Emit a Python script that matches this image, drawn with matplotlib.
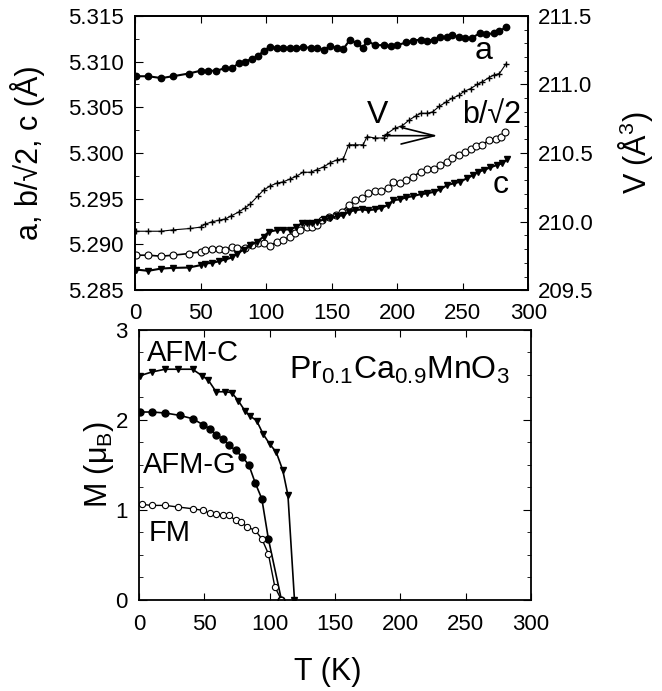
import matplotlib
matplotlib.use('Agg')
import matplotlib.pyplot as plt
from matplotlib.ticker import MultipleLocator

plt.rcParams['font.family'] = ['Liberation Sans', 'DejaVu Sans']
plt.rcParams['mathtext.fontset'] = 'custom'
plt.rcParams['mathtext.rm'] = 'Liberation Sans'
plt.rcParams['mathtext.it'] = 'Liberation Sans:italic'

# lattice parameter a (filled circles)
T_a = [1, 10, 20, 29, 41, 50, 56, 62, 69, 74, 79, 84, 89, 94, 98, 103, 108, 113, 118, 123,
       128, 134, 139, 144, 149, 154, 159, 164, 169, 174, 177, 183, 190, 195, 200, 207, 212,
       218, 223, 228, 233, 238, 242, 247, 252, 257, 263, 268, 274, 278, 283]
a_vals = [5.3084, 5.3084, 5.3082, 5.3084, 5.3087, 5.3090, 5.3090, 5.3090, 5.3093, 5.3093,
          5.3098, 5.3100, 5.3103, 5.3106, 5.3112, 5.3116, 5.3115, 5.3115, 5.3115, 5.3115,
          5.3116, 5.3115, 5.3115, 5.3113, 5.3117, 5.3115, 5.3114, 5.3124, 5.3120, 5.3115,
          5.3123, 5.3118, 5.3118, 5.3117, 5.3118, 5.3121, 5.3123, 5.3124, 5.3123, 5.3124,
          5.3127, 5.3127, 5.3129, 5.3127, 5.3126, 5.3126, 5.3131, 5.3130, 5.3131, 5.3133,
          5.3138]

# b/sqrt(2) (open circles)
T_b = [1, 10, 20, 29, 41, 50, 53, 59, 64, 69, 74, 78, 84, 89, 94, 98, 103, 108, 113, 118,
       122, 126, 131, 135, 139, 143, 148, 153, 158, 163, 168, 173, 178, 183, 188, 193, 197,
       202, 207, 212, 218, 223, 228, 233, 238, 242, 247, 252, 256, 260, 265, 270, 275, 279, 282]
b_vals = [5.28883, 5.28883, 5.28872, 5.28883, 5.28901, 5.28920, 5.28938, 5.28956, 5.28956,
          5.28945, 5.28974, 5.28967, 5.28967, 5.28993, 5.29011, 5.29011, 5.28982, 5.29029,
          5.29047, 5.29084, 5.29121, 5.29164, 5.29193, 5.29193, 5.29212, 5.29266, 5.29296,
          5.29321, 5.29358, 5.29431, 5.29485, 5.29504, 5.29558, 5.29584, 5.29588, 5.29613,
          5.29686, 5.29675, 5.29704, 5.29741, 5.29796, 5.29821, 5.29821, 5.29869, 5.29905,
          5.29942, 5.29978, 5.30015, 5.30040, 5.30077, 5.30088, 5.30142, 5.30150, 5.30179,
          5.30234]

# lattice parameter c (filled down triangles)
T_c = [1, 10, 20, 29, 41, 50, 53, 59, 64, 69, 74, 78, 83, 88, 93, 98, 102, 108, 113, 118,
       123, 127, 131, 135, 139, 144, 149, 154, 159, 163, 168, 173, 178, 183, 188, 193, 197,
       202, 207, 212, 218, 223, 228, 233, 238, 243, 248, 253, 258, 262, 266, 271, 276, 280, 284]
c_vals = [5.28726, 5.28712, 5.28737, 5.28744, 5.28748, 5.28774, 5.28792, 5.28799, 5.28817,
          5.28836, 5.28858, 5.28901, 5.28945, 5.28993, 5.29029, 5.29084, 5.29139, 5.29157,
          5.29164, 5.29164, 5.29193, 5.29230, 5.29230, 5.29237, 5.29248, 5.29274, 5.29285,
          5.29310, 5.29321, 5.29358, 5.29376, 5.29383, 5.29376, 5.29383, 5.29401, 5.29431,
          5.29485, 5.29493, 5.29515, 5.29529, 5.29551, 5.29558, 5.29577, 5.29602, 5.29650,
          5.29668, 5.29686, 5.29723, 5.29759, 5.29796, 5.29814, 5.29843, 5.29869, 5.29887,
          5.29931]

# cell volume V (right axis)
T_V = [1, 10, 20, 29, 42, 50, 53, 59, 64, 69, 73, 79, 84, 88, 94, 98, 103, 108, 113, 118,
       123, 128, 134, 139, 144, 149, 154, 159, 163, 168, 174, 177, 183, 190, 192, 198, 204,
       209, 214, 218, 223, 227, 232, 237, 242, 247, 251, 256, 261, 265, 270, 274, 278, 283]
V_vals = [209.93, 209.93, 209.93, 209.94, 209.95, 209.96, 209.98, 210.00, 210.01, 210.02,
          210.04, 210.07, 210.10, 210.13, 210.19, 210.23, 210.26, 210.28, 210.29, 210.31,
          210.33, 210.36, 210.36, 210.38, 210.40, 210.43, 210.45, 210.46, 210.56, 210.56,
          210.56, 210.62, 210.61, 210.61, 210.64, 210.68, 210.70, 210.74, 210.77, 210.79,
          210.79, 210.80, 210.84, 210.87, 210.90, 210.92, 210.95, 210.97, 211.00, 211.02,
          211.05, 211.07, 211.08, 211.15]

# magnetic moments
T_afmc = [1, 10, 20, 30, 41, 48, 53, 59, 66, 71, 76, 81, 85, 90, 95, 100, 105, 110, 114, 119]
M_afmc = [2.49, 2.53, 2.56, 2.56, 2.56, 2.49, 2.44, 2.31, 2.31, 2.30, 2.21, 2.10, 2.04,
          1.99, 1.84, 1.73, 1.64, 1.44, 1.16, 0.0]
T_afmg = [1, 10, 20, 31, 41, 49, 54, 59, 64, 69, 74, 79, 84, 89, 94, 99, 109]
M_afmg = [2.085, 2.085, 2.074, 2.048, 2.011, 1.944, 1.90, 1.833, 1.789, 1.715, 1.659,
          1.585, 1.50, 1.296, 1.122, 0.678, 0.0]
T_fm = [2, 10, 20, 30, 41, 49, 54, 59, 64, 69, 74, 78, 83, 89, 94, 99, 104, 109]
M_fm = [1.059, 1.048, 1.048, 1.030, 1.011, 0.993, 0.963, 0.948, 0.937, 0.937, 0.881,
        0.863, 0.807, 0.770, 0.678, 0.511, 0.141, 0.0]

fig = plt.figure(figsize=(6.62, 6.91), dpi=100)
ax = fig.add_axes([0.204, 0.580, 0.594, 0.397])
ax2 = ax.twinx()
ax3 = fig.add_axes([0.210, 0.132, 0.592, 0.391])

ax.plot(T_a, a_vals, 'k-', marker='o', ms=4.6, lw=1.5)
ax.plot(T_b, b_vals, 'k-', marker='o', ms=5, mfc='white', mew=0.8, lw=1.2)
ax.plot(T_c, c_vals, 'k-', marker='v', ms=5, lw=1.5)
ax2.plot(T_V, V_vals, 'k-', marker='+', ms=4, mew=1.0, lw=0.8)

ax.set_xlim(0, 300)
ax.set_ylim(5.285, 5.315)
ax2.set_ylim(209.5, 211.5)
ax.xaxis.set_major_locator(MultipleLocator(50))
ax.yaxis.set_major_locator(MultipleLocator(0.005))
ax.yaxis.set_minor_locator(MultipleLocator(0.0025))
ax.yaxis.set_major_formatter(plt.FormatStrFormatter('%.3f'))
ax2.yaxis.set_major_locator(MultipleLocator(0.5))
ax2.yaxis.set_minor_locator(MultipleLocator(0.1))
ax2.yaxis.set_major_formatter(plt.FormatStrFormatter('%.1f'))

ax.tick_params(axis='x', which='both', direction='in', top=True, labelsize=16, pad=9, length=5)
ax.tick_params(axis='y', which='major', direction='in', labelsize=16, pad=8, length=6)
ax.tick_params(axis='y', which='minor', direction='in', length=3)
ax2.tick_params(axis='y', which='major', direction='in', labelsize=16, pad=7, length=6)
ax2.tick_params(axis='y', which='minor', direction='in', length=3)

ax.set_ylabel('a, b/√2, c (Å)', fontsize=22)
ax.yaxis.set_label_coords(-0.229, 0.5)
ax2.set_ylabel('V (Å$^3$)', fontsize=22)
ax2.yaxis.set_label_coords(1.222, 0.5)

ax.text(266, 5.3112, 'a', fontsize=23, ha='center', va='center')
ax.text(185, 5.3042, 'V', fontsize=23, ha='center', va='center')
ax.text(272, 5.3042, 'b/√2', fontsize=22, ha='center', va='center')
ax.text(279, 5.2965, 'c', fontsize=23, ha='center', va='center')
ax.annotate('', xy=(231, 5.3019), xytext=(189, 5.3019),
            arrowprops=dict(arrowstyle='->,head_length=2.4,head_width=0.6', lw=1.2, color='k',
                            shrinkA=0, shrinkB=0))

ax3.plot(T_afmc, M_afmc, 'k-', marker='v', ms=4.5, lw=1.2)
ax3.plot(T_afmg, M_afmg, 'k-', marker='o', ms=5, lw=1.2)
ax3.plot(T_fm, M_fm, 'k-', marker='o', ms=4.5, mfc='white', mew=0.8, lw=1.0)

ax3.set_xlim(0, 300)
ax3.set_ylim(0, 3)
ax3.xaxis.set_major_locator(MultipleLocator(50))
ax3.yaxis.set_major_locator(MultipleLocator(1))
ax3.yaxis.set_minor_locator(MultipleLocator(0.25))
ax3.tick_params(which='both', direction='in', top=True, right=True, labelsize=16)
ax3.tick_params(axis='x', pad=10, length=5)
ax3.tick_params(axis='y', which='major', pad=8, length=6)
ax3.tick_params(axis='y', which='minor', length=3)

ax3.text(6, 2.74, 'AFM-C', fontsize=21, ha='left', va='center')
ax3.text(3, 1.50, 'AFM-G', fontsize=21, ha='left', va='center')
ax3.text(7, 0.74, 'FM', fontsize=21, ha='left', va='center')
ax3.text(115, 2.45, 'Pr$_{0.1}$Ca$_{0.9}$MnO$_3$', fontsize=23, ha='left', va='baseline')

ax3.set_ylabel('M (μ$_\\mathrm{B}$)', fontsize=22)
ax3.yaxis.set_label_coords(-0.06, 0.5)
ax3.set_xlabel('T (K)', fontsize=22)
ax3.xaxis.set_label_coords(0.482, -0.211)

for a_ in (ax, ax2, ax3):
    for s in a_.spines.values():
        s.set_linewidth(1.3)

fig.savefig('out.png', dpi=100)
